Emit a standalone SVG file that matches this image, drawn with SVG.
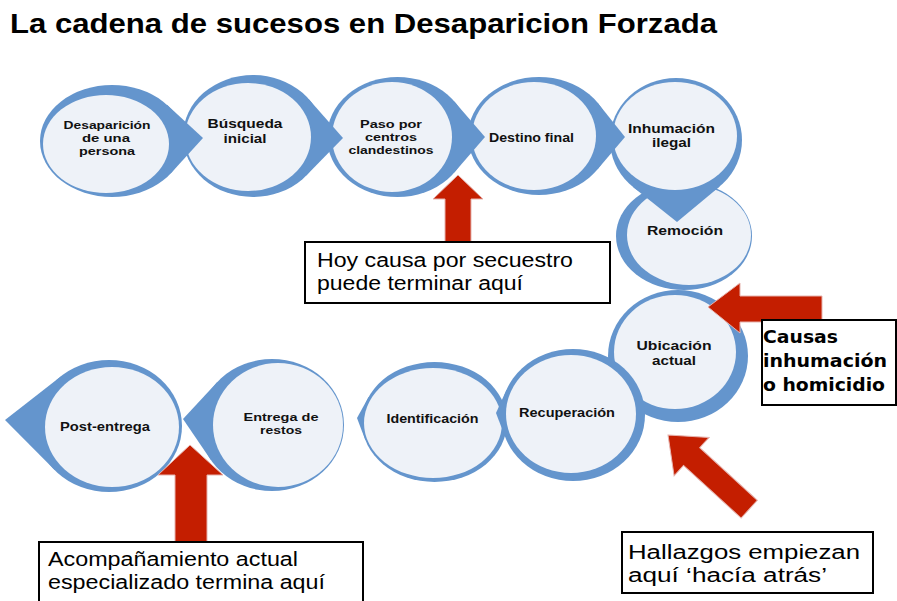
<svg xmlns="http://www.w3.org/2000/svg" width="897" height="601" viewBox="0 0 897 601">
<defs>
<style>
.ring{fill:#6495CD}
.core{fill:#EEF2F8}
.lbl{font-family:"Liberation Sans",Arial,sans-serif;font-weight:bold;font-size:13px;fill:#111;text-anchor:middle}
.sm{font-size:12px}
.xs{font-size:11px}
.red{fill:#C41E00;stroke:#E6B3AE;stroke-width:1}
.box{fill:#fff;stroke:#000;stroke-width:2}
.note{font-family:"Liberation Sans",Arial,sans-serif;font-size:20px;fill:#000}
.noteb{font-family:"DejaVu Sans","Liberation Sans",sans-serif;font-weight:bold;font-size:17px;fill:#000}
.title{font-family:"Liberation Sans",Arial,sans-serif;font-weight:bold;font-size:28px;fill:#000}
</style>
</defs>
<rect width="897" height="601" fill="#fff"/>
<text class="title" x="10" y="33" textLength="707" lengthAdjust="spacingAndGlyphs">La cadena de sucesos en Desaparicion Forzada</text>

<g id="node-post-entrega">
<ellipse class="ring" cx="109" cy="426" rx="73" ry="66"/>
<polygon class="ring" points="61.4,376 5,420 54.7,470.1 109,426"/>
<ellipse class="core" cx="112" cy="427" rx="67" ry="60"/>
<text class="lbl" x="105" y="430.7" textLength="90" lengthAdjust="spacingAndGlyphs">Post-entrega</text>
</g>
<g id="node-entrega">
<ellipse class="ring" cx="272" cy="425" rx="72" ry="66"/>
<polygon class="ring" points="217.1,382.2 183,419 210.9,460 272,425"/>
<ellipse class="core" cx="278" cy="425" rx="65" ry="62"/>
<text class="lbl xs" x="281" y="420.5" textLength="75" lengthAdjust="spacingAndGlyphs">Entrega de</text>
<text class="lbl xs" x="281" y="433.5" textLength="42" lengthAdjust="spacingAndGlyphs">restos</text>
</g>
<g id="node-identificacion">
<ellipse class="ring" cx="434.5" cy="422" rx="72.5" ry="60"/>
<polygon class="ring" points="368.6,397 357,418 365.3,439.9 434.5,422"/>
<ellipse class="core" cx="433" cy="423" rx="69" ry="55"/>
<text class="lbl" x="432.5" y="422.7" textLength="92" lengthAdjust="spacingAndGlyphs">Identificación</text>
</g>
<g id="node-remocion">
<ellipse class="ring" cx="684" cy="236" rx="68" ry="54"/>
<ellipse class="core" cx="689" cy="235" rx="62" ry="50"/>
<text class="lbl" x="685" y="235" textLength="76" lengthAdjust="spacingAndGlyphs">Remoción</text>
</g>
<g id="node-ubicacion">
<ellipse class="ring" cx="678" cy="356" rx="70" ry="66"/>
<ellipse class="core" cx="675" cy="352" rx="61" ry="57"/>
<text class="lbl" x="674" y="350" textLength="75" lengthAdjust="spacingAndGlyphs">Ubicación</text>
<text class="lbl" x="674" y="365" textLength="44" lengthAdjust="spacingAndGlyphs">actual</text>
</g>
<g id="node-recuperacion">
<ellipse class="ring" cx="573" cy="415" rx="72" ry="66"/>
<polygon class="ring" points="506.4,389.9 496,413 505,436.7 573,415"/>
<ellipse class="core" cx="571" cy="414" rx="65" ry="59"/>
<text class="lbl" x="567" y="416.7" textLength="96" lengthAdjust="spacingAndGlyphs">Recuperación</text>
</g>
<g id="node-inhumacion">
<ellipse class="ring" cx="676" cy="140" rx="66" ry="62"/>
<polygon class="ring" points="633.3,187.3 677,222 719.7,186.4 676,140"/>
<ellipse class="core" cx="675" cy="136" rx="62" ry="54"/>
<text class="lbl sm" x="671.5" y="133" textLength="87" lengthAdjust="spacingAndGlyphs">Inhumación</text>
<text class="lbl sm" x="671.5" y="146.5" textLength="39" lengthAdjust="spacingAndGlyphs">ilegal</text>
</g>
<g id="node-destino">
<ellipse class="ring" cx="539" cy="136" rx="71" ry="59"/>
<polygon class="ring" points="597.6,102.7 625,137 597.6,169.3 539,136"/>
<ellipse class="core" cx="534" cy="136" rx="62" ry="54"/>
<text class="lbl sm" x="531.5" y="141.5" textLength="85" lengthAdjust="spacingAndGlyphs">Destino final</text>
</g>
<g id="node-paso">
<ellipse class="ring" cx="397.5" cy="137" rx="70.5" ry="60"/>
<polygon class="ring" points="454.3,101.5 485,137 454.3,172.5 397.5,137"/>
<ellipse class="core" cx="392" cy="137" rx="60" ry="55"/>
<text class="lbl xs" x="391" y="128" textLength="62" lengthAdjust="spacingAndGlyphs">Paso por</text>
<text class="lbl xs" x="391" y="141" textLength="52" lengthAdjust="spacingAndGlyphs">centros</text>
<text class="lbl xs" x="391" y="154" textLength="85" lengthAdjust="spacingAndGlyphs">clandestinos</text>
</g>
<g id="node-busqueda">
<ellipse class="ring" cx="253" cy="136" rx="70" ry="61"/>
<polygon class="ring" points="308.6,99 343,138 306.3,175.5 253,136"/>
<ellipse class="core" cx="248" cy="137" rx="63" ry="54"/>
<text class="lbl" x="245" y="128" textLength="75" lengthAdjust="spacingAndGlyphs">Búsqueda</text>
<text class="lbl" x="245" y="143" textLength="43" lengthAdjust="spacingAndGlyphs">inicial</text>
</g>
<g id="node-desaparicion">
<ellipse class="ring" cx="112" cy="141" rx="72" ry="56"/>
<polygon class="ring" points="167,104.8 203,138 170.7,173.4 112,141"/>
<ellipse class="core" cx="106" cy="144" rx="63" ry="49"/>
<text class="lbl xs" x="107" y="128.5" textLength="87" lengthAdjust="spacingAndGlyphs">Desaparición</text>
<text class="lbl xs" x="106" y="141.5" textLength="48" lengthAdjust="spacingAndGlyphs">de una</text>
<text class="lbl xs" x="107" y="154.5" textLength="56" lengthAdjust="spacingAndGlyphs">persona</text>
</g>

<g id="connectors">
<polygon class="red" points="458,175 483,199 471,199 471,243 445,243 445,199 433,199"/>
<polygon class="red" points="708,307 740,283 740,296 822,296 822,322 740,322 740,333"/>
<polygon class="red" transform="translate(668,435) rotate(-47.6)" points="0,0 26,32 12,32 12,110 -12,110 -12,32 -26,32"/>
<polygon class="red" points="190,445 223,475 207,475 207,543 175,543 175,475 158,475"/>
</g>

<g id="box-secuestro">
<rect class="box" x="305" y="242" width="305" height="61"/>
<text class="note" x="317" y="267" textLength="256" lengthAdjust="spacingAndGlyphs">Hoy causa por secuestro</text>
<text class="note" x="317" y="290" textLength="206" lengthAdjust="spacingAndGlyphs">puede terminar aquí</text>
</g>
<g id="box-causas">
<rect class="box" x="762" y="320" width="134" height="85"/>
<text class="noteb" x="763" y="343" textLength="75" lengthAdjust="spacingAndGlyphs">Causas</text>
<text class="noteb" x="763" y="367" textLength="124" lengthAdjust="spacingAndGlyphs">inhumación</text>
<text class="noteb" x="763" y="391" textLength="122" lengthAdjust="spacingAndGlyphs">o homicidio</text>
</g>
<g id="box-hallazgos">
<rect class="box" x="622" y="532" width="251" height="61"/>
<text class="note" x="628" y="559" textLength="232" lengthAdjust="spacingAndGlyphs" style="font-size:19.5px">Hallazgos empiezan</text>
<text class="note" x="628" y="582" textLength="199" lengthAdjust="spacingAndGlyphs" style="font-size:19.5px">aquí ‘hacía atrás’</text>
</g>
<g id="box-acompanamiento">
<rect class="box" x="39" y="542" width="324" height="70"/>
<text class="note" x="48" y="566" textLength="250" lengthAdjust="spacingAndGlyphs" style="font-size:19.5px">Acompañamiento actual</text>
<text class="note" x="48" y="589" textLength="277" lengthAdjust="spacingAndGlyphs" style="font-size:19.5px">especializado termina aquí</text>
</g>
</svg>
